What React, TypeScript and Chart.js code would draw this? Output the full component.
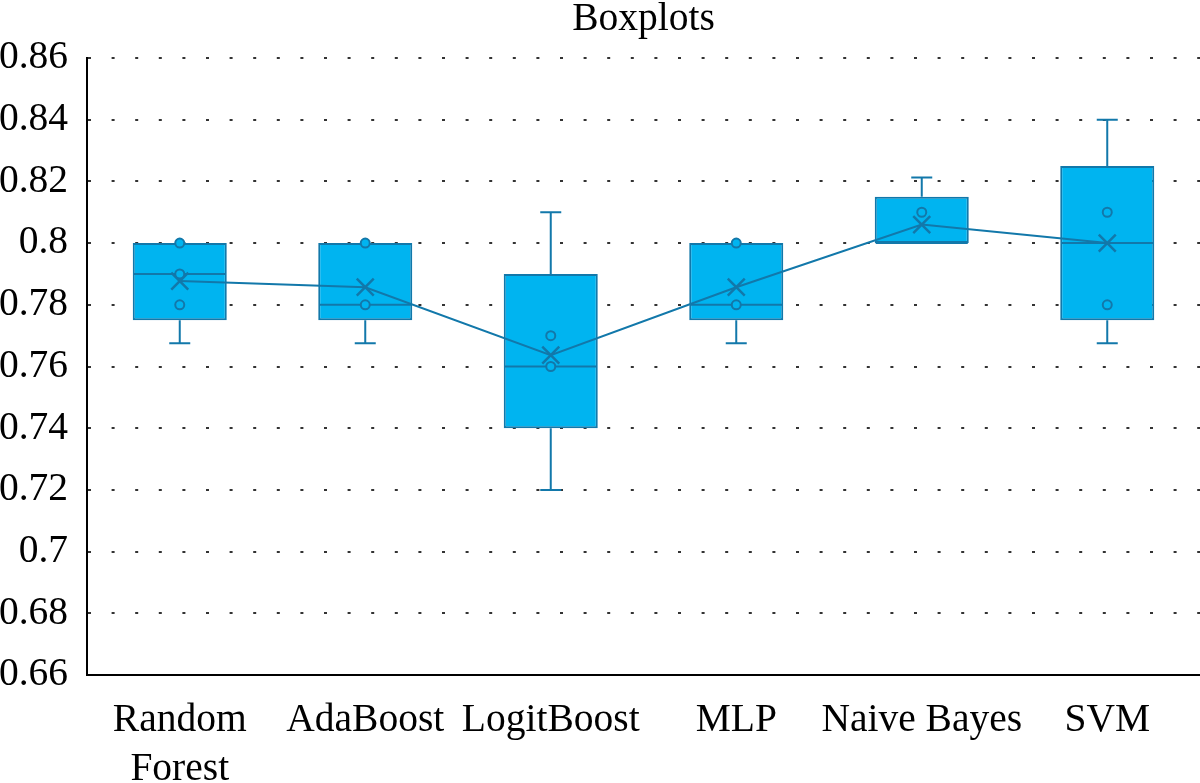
import React, { useEffect, useRef } from "react";
import { Chart, registerables } from "chart.js";

Chart.register(...registerables);

const categories: (string | string[])[] = [["Random", "Forest"], "AdaBoost", "LogitBoost", "MLP", "Naive Bayes", "SVM"];
const mins = [0.7675, 0.7675, 0.72, 0.7675, 0.80, 0.7675];
const q1s = [0.775, 0.775, 0.74, 0.775, 0.80, 0.775];
const medians = [0.79, 0.78, 0.76, 0.78, 0.80, 0.80];
const q3s = [0.80, 0.80, 0.79, 0.80, 0.815, 0.825];
const maxs = [0.80, 0.80, 0.81, 0.80, 0.8213, 0.84];
const means = [0.7877, 0.7857, 0.7637, 0.7857, 0.806, 0.80];
const pointsTop = [0.80, 0.80, 0.77, 0.80, 0.81, 0.81];
const pointsMid = [0.79, 0.78, 0.76, 0.78, null, 0.78];
const pointsLow = [0.78, null, null, null, null, null];

const FILL = "#00B4F0";
const LINE = "#1278AA";
const FONT = "'Liberation Serif', 'DejaVu Serif', serif";
const FSIZE = 39.5;

const whiskerPlugin = {
  id: "whiskers",
  afterDatasetDraw(chart: any, args: any) {
    if (args.index !== 0) return;
    const { ctx, scales } = chart;
    const xs = scales.x;
    const ys = scales.y;
    const meta = chart.getDatasetMeta(0);
    ctx.save();
    ctx.strokeStyle = LINE;
    ctx.lineWidth = 2;
    for (let i = 0; i < categories.length; i++) {
      const cx = xs.getPixelForValue(i);
      const bar = meta.data[i];
      const half = bar ? bar.width / 2 : 47;
      const yMed = ys.getPixelForValue(medians[i]);
      const yQ1 = ys.getPixelForValue(q1s[i]);
      const yQ3 = ys.getPixelForValue(q3s[i]);
      const yMin = ys.getPixelForValue(mins[i]);
      const yMax = ys.getPixelForValue(maxs[i]);
      ctx.beginPath();
      ctx.moveTo(cx - half + 1, yMed);
      ctx.lineTo(cx + half - 1, yMed);
      if (yMax < yQ3 - 0.5) {
        ctx.moveTo(cx, yQ3);
        ctx.lineTo(cx, yMax);
        ctx.moveTo(cx - 10.5, yMax);
        ctx.lineTo(cx + 10.5, yMax);
      }
      if (yMin > yQ1 + 0.5) {
        ctx.moveTo(cx, yQ1);
        ctx.lineTo(cx, yMin);
        ctx.moveTo(cx - 10.5, yMin);
        ctx.lineTo(cx + 10.5, yMin);
      }
      ctx.stroke();
    }
    ctx.restore();
  },
};

const pointDataset = (label: string, data: (number | null)[]) => ({
  type: "line" as const,
  label,
  data,
  showLine: false,
  pointStyle: "circle",
  pointRadius: 4.5,
  pointBorderWidth: 2,
  pointBackgroundColor: FILL,
  pointBorderColor: LINE,
  order: 2,
});

export default function App() {
  const ref = useRef<HTMLCanvasElement | null>(null);
  useEffect(() => {
    if (!ref.current) return;
    const chart = new Chart(ref.current, {
      type: "bar",
      data: {
        labels: categories as any,
        datasets: [
          {
            type: "bar",
            label: "box",
            data: q1s.map((q, i) => [q, q3s[i]]) as any,
            backgroundColor: FILL,
            borderColor: LINE,
            borderWidth: 2,
            borderSkipped: false,
            barPercentage: 0.507,
            categoryPercentage: 1,
            order: 3,
          },
          pointDataset("top", pointsTop) as any,
          pointDataset("mid", pointsMid) as any,
          pointDataset("low", pointsLow) as any,
          {
            type: "line",
            label: "mean",
            data: means,
            borderColor: LINE,
            borderWidth: 2,
            pointStyle: "crossRot",
            pointRadius: 12,
            pointBorderWidth: 2.5,
            pointBorderColor: LINE,
            pointBackgroundColor: LINE,
            tension: 0,
            order: 1,
          } as any,
        ],
      },
      options: {
        animation: false,
        responsive: true,
        maintainAspectRatio: false,
        layout: { autoPadding: false, padding: { left: 0, right: 0, top: 0, bottom: 0 } },
        plugins: {
          legend: { display: false },
          tooltip: { enabled: false },
          title: {
            display: true,
            fullSize: false,
            text: "Boxplots",
            color: "#000",
            font: { family: FONT, size: FSIZE, weight: "normal", lineHeight: 1.0 },
            padding: { top: 0, bottom: 58 - FSIZE },
          },
        },
        scales: {
          x: {
            type: "category",
            offset: true,
            grid: { display: false, drawTicks: false },
            border: { display: true, color: "#000", width: 2 },
            ticks: {
              color: "#000",
              padding: 21.5,
              maxRotation: 0,
              autoSkip: false,
              font: { family: FONT, size: FSIZE, lineHeight: 1.24 },
            },
            afterFit: (s: any) => {
              s.height = 108;
            },
          },
          y: {
            type: "linear",
            min: 0.66,
            max: 0.86,
            grid: { display: true, drawTicks: false, color: "#333", lineWidth: 2 },
            border: { display: true, color: "#000", width: 2, dash: [3, 20.6] },
            ticks: {
              stepSize: 0.02,
              color: "#000",
              padding: 19,
              font: { family: FONT, size: FSIZE },
              callback: (v: any) => String(Number(Number(v).toFixed(2))),
            },
            afterFit: (s: any) => {
              s.width = 87;
            },
          },
        },
      } as any,
      plugins: [whiskerPlugin],
    });
    return () => chart.destroy();
  }, []);
  return (
    <div style={{ position: "absolute", left: 0, top: 0, width: 1200, height: 783, background: "#fff" }}>
      <canvas ref={ref} />
    </div>
  );
}
